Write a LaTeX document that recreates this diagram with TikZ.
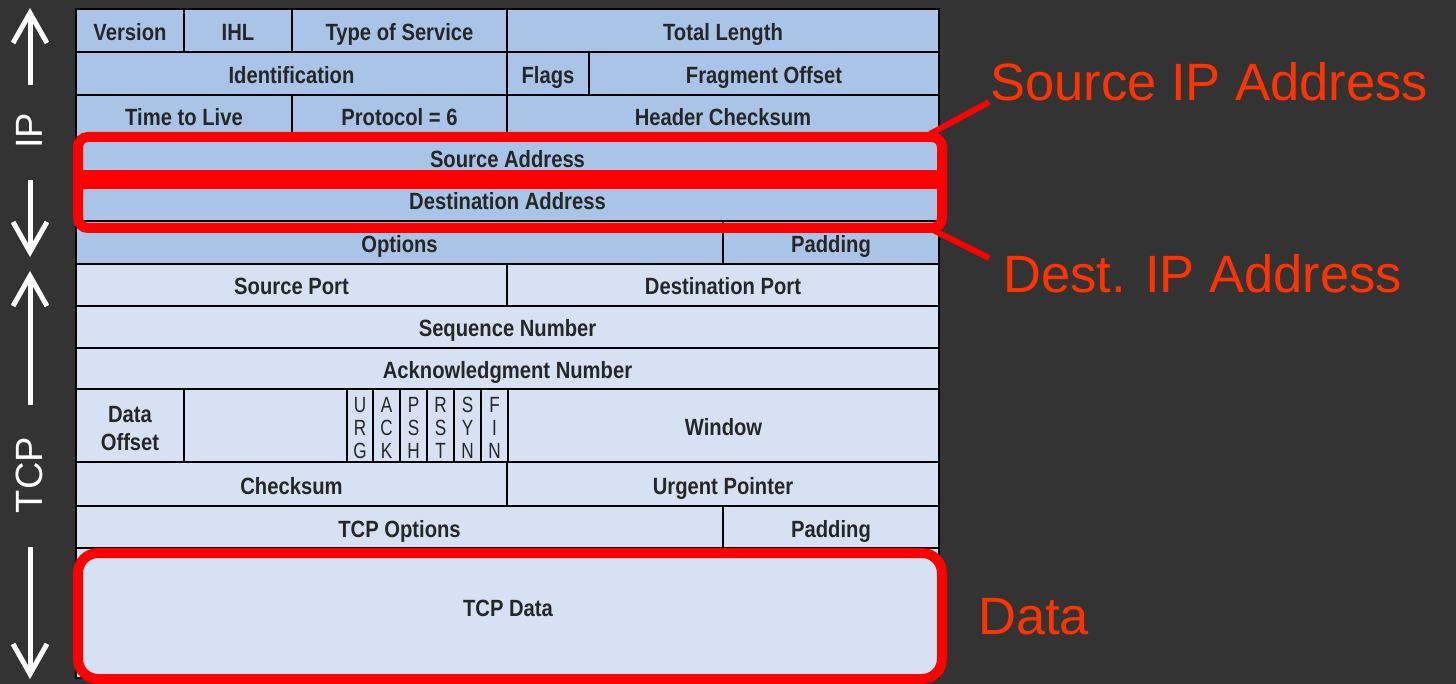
\documentclass[tikz,border=0pt]{standalone}
\usepackage{fontspec}
\setmainfont{Liberation Sans}
\newfontfamily\tblfont{Liberation Sans}[FakeStretch=0.86]
\newfontfamily\flagfont{Liberation Sans}[FakeStretch=0.78]
\usetikzlibrary{arrows.meta}
\definecolor{bg}{HTML}{333333}
\definecolor{ipfill}{HTML}{A9C4E7}
\definecolor{tcpfill}{HTML}{D6E2F4}
\definecolor{txt}{HTML}{262626}
\definecolor{hl}{HTML}{FF0000}
\definecolor{lbl}{HTML}{FF3300}
\newcommand\fld[7]{\node[fld,#2,minimum width={#5pt-#3pt},minimum height={#6pt-#4pt}] (#1) at ({(#3+#5)/2},{(#4+#6)/2}) {#7};}
\begin{document}
\begin{tikzpicture}[x=1pt,y=-1pt,
  fld/.style={draw=black, line width=2.5pt, inner sep=0pt, outer sep=0pt, text=txt,
    text height=20pt, text depth=0pt,
    font=\tblfont\bfseries\fontsize{23.5}{27}\selectfont},
  celltext/.style={text=txt, inner sep=0pt, font=\tblfont\bfseries\fontsize{23.5}{27}\selectfont},
  ipf/.style={fill=ipfill}, tcpf/.style={fill=tcpfill},
  flag/.style={text=txt, inner sep=0pt, font=\flagfont\fontsize{22}{22}\selectfont},
  side/.style={text=white, font=\fontsize{38}{38}\selectfont, rotate=90, inner sep=0pt},
  sidearrow/.style={draw=white, line width=5pt, -{Straight Barb[length=30pt,width=34pt]}},
  hlbox/.style={draw=hl, line width=10pt, inner sep=0pt, outer sep=0pt},
  hlline/.style={draw=hl, line width=6pt},
  lbltext/.style={text=lbl, font=\fontsize{52.5}{52.5}\selectfont, inner sep=0pt, anchor=base west}
]
\fill[bg] (0,0) rectangle (1456,684);
\useasboundingbox (0,0) rectangle (1456,684);

% IP header
\fld{ver}{ipf}{76}{9}{184}{52}{Version}
\fld{ihl}{ipf}{184}{9}{292}{52}{IHL}
\fld{tos}{ipf}{292}{9}{507}{52}{Type of Service}
\fld{tlen}{ipf}{507}{9}{939}{52}{Total Length}
\fld{ident}{ipf}{76}{52}{507}{95}{Identification}
\fld{flags}{ipf}{507}{52}{589}{95}{Flags}
\fld{frag}{ipf}{589}{52}{939}{95}{Fragment Offset}
\fld{ttl}{ipf}{76}{95}{292}{137}{Time to Live}
\fld{proto}{ipf}{292}{95}{507}{137}{Protocol = 6}
\fld{hcs}{ipf}{507}{95}{939}{137}{Header Checksum}
\fld{src}{ipf}{76}{137}{939}{179}{Source Address}
\fld{dst}{ipf}{76}{179}{939}{221}{Destination Address}
\fld{opts}{ipf}{76}{221}{723}{264}{Options}
\fld{pad}{ipf}{723}{221}{939}{264}{Padding}

% TCP header
\fld{sport}{tcpf}{76}{264}{507}{306}{Source Port}
\fld{dport}{tcpf}{507}{264}{939}{306}{Destination Port}
\fld{seq}{tcpf}{76}{306}{939}{348}{Sequence Number}
\fld{ackn}{tcpf}{76}{348}{939}{389}{Acknowledgment Number}
\fld{doff}{tcpf}{76}{389}{184}{462}{}
\node[celltext,anchor=base] (doff1) at (130,422) {Data};
\node[celltext,anchor=base] (doff2) at (130,450) {Offset};
\fld{rsv}{tcpf}{184}{389}{347}{462}{}
\fld{furg}{tcpf}{347}{389}{373}{462}{}
\fld{fack}{tcpf}{373}{389}{400}{462}{}
\fld{fpsh}{tcpf}{400}{389}{427}{462}{}
\fld{frst}{tcpf}{427}{389}{454}{462}{}
\fld{fsyn}{tcpf}{454}{389}{481}{462}{}
\fld{ffin}{tcpf}{481}{389}{508}{462}{}
\fld{win}{tcpf}{508}{389}{939}{462}{Window}
\fld{cks}{tcpf}{76}{462}{507}{506}{Checksum}
\fld{urgp}{tcpf}{507}{462}{939}{506}{Urgent Pointer}
\fld{topt}{tcpf}{76}{506}{723}{548}{TCP Options}
\fld{tpad}{tcpf}{723}{506}{939}{548}{Padding}
\fld{tdata}{tcpf}{76}{548}{939}{678}{}
\node[celltext,anchor=base] (tdatatxt) at (508,616) {TCP Data};

% flag letters
\foreach \x/\a/\b/\c [count=\i] in {360/U/R/G, 386.5/A/C/K, 413.5/P/S/H, 440.5/R/S/T, 467.5/S/Y/N, 494.5/F/I/N}{
  \node[flag,anchor=base] (fl\i a) at (\x,412) {\a};
  \node[flag,anchor=base] (fl\i b) at (\x,435) {\b};
  \node[flag,anchor=base] (fl\i c) at (\x,458) {\c};
}

% side labels and arrows
\node[side] (iplbl) at (29,131) {IP};
\node[side] (tcplbl) at (29,475) {TCP};
\coordinate (ipupA) at (30,85);   \coordinate (ipupB) at (30,8);
\coordinate (ipdnA) at (30,180);  \coordinate (ipdnB) at (30,257);
\coordinate (tcupA) at (30,405);  \coordinate (tcupB) at (30,271);
\coordinate (tcdnA) at (30,547);  \coordinate (tcdnB) at (30,679);
\draw[sidearrow] (ipupA) -- (ipupB);
\draw[sidearrow] (ipdnA) -- (ipdnB);
\draw[sidearrow] (tcupA) -- (tcupB);
\draw[sidearrow] (tcdnA) -- (tcdnB);

% highlights
\node[hlbox, rounded corners=10pt, minimum width=864pt, minimum height=91pt] (ipbox) at (510,182.5) {};
\fill[hl] (73,170) rectangle (947,189);
\node[hlbox, rounded corners=20pt, minimum width=864pt, minimum height=126pt] (databox) at (510,616) {};

% labels
\node[lbltext] (srclbl) at (990,101) {Source IP Address};
\node[lbltext] (dstlbl) at (1003,293) {Dest. IP Address};
\node[lbltext] (datalbl) at (978,634) {Data};
\coordinate (srcend) at (989,102);
\coordinate (dstend) at (989,258);
\draw[hlline] ([xshift=-12pt,yshift=3pt]ipbox.north east) -- (srcend);
\draw[hlline] ([xshift=-9pt,yshift=-2pt]ipbox.south east) -- (dstend);
\end{tikzpicture}
\end{document}
